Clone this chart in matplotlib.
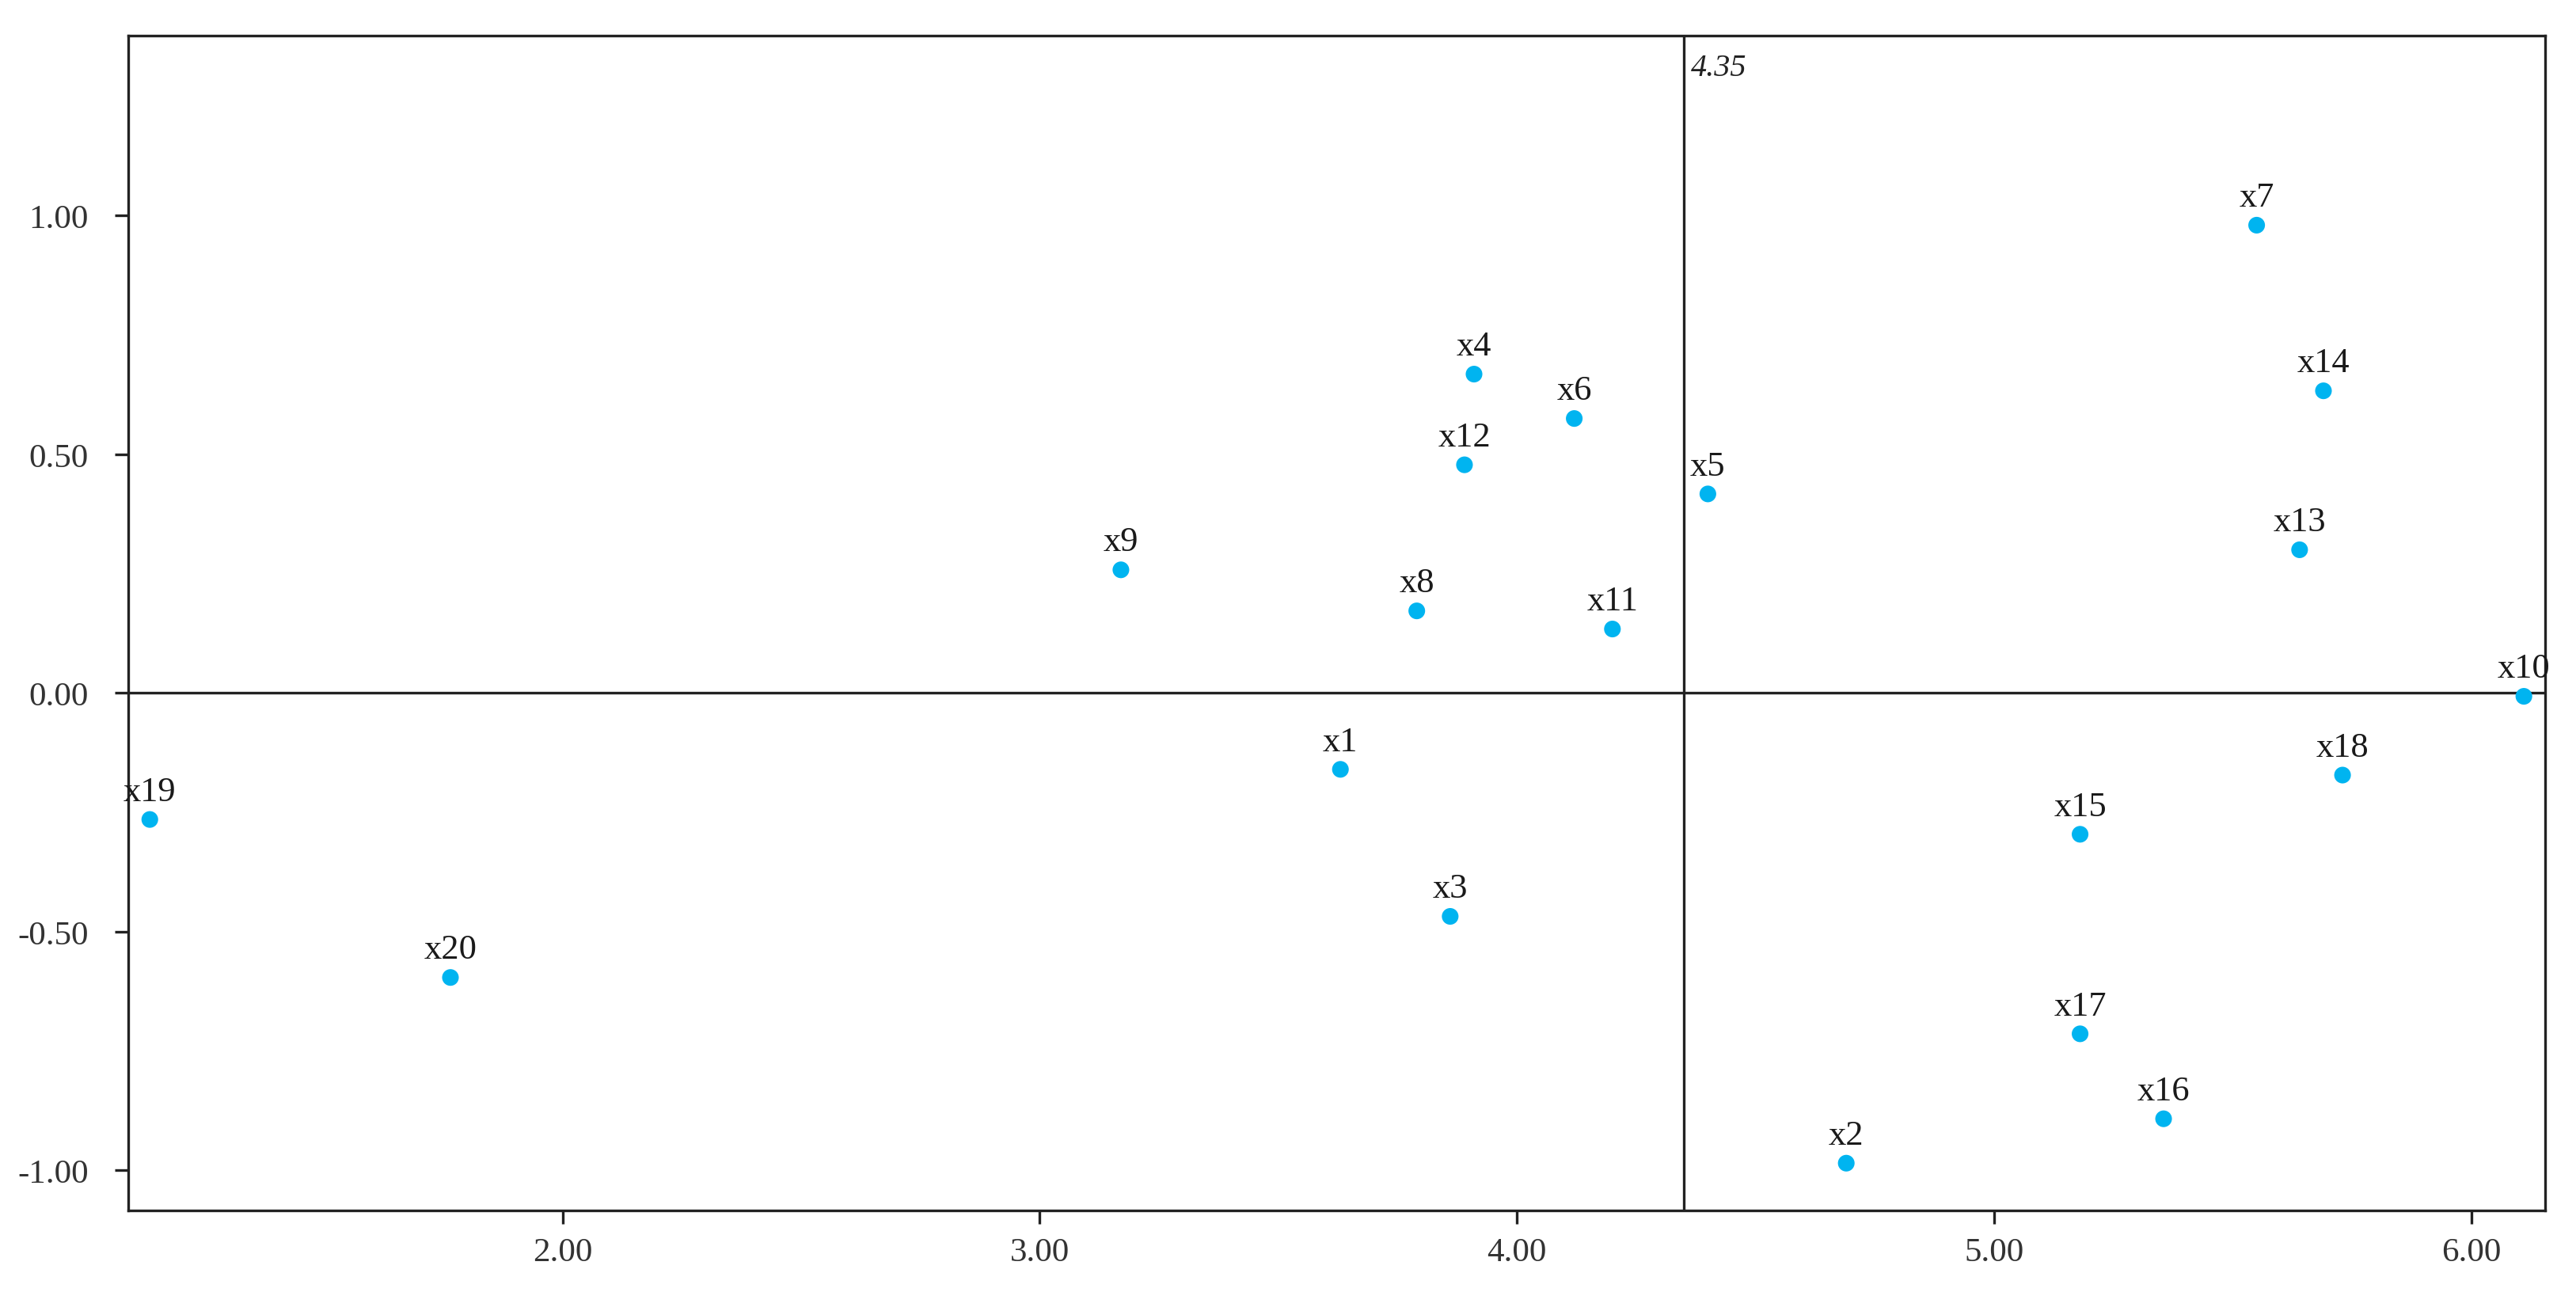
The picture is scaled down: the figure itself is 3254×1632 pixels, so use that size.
import numpy as np
import matplotlib.pyplot as plt
from matplotlib.ticker import FormatStrFormatter
from matplotlib.transforms import blended_transform_factory

plt.rcParams['font.family'] = ['Liberation Serif', 'DejaVu Serif']
plt.rcParams['axes.unicode_minus'] = False

# point names and coordinates
names = ['x1', 'x2', 'x3', 'x4', 'x5', 'x6', 'x7', 'x8', 'x9', 'x10',
         'x11', 'x12', 'x13', 'x14', 'x15', 'x16', 'x17', 'x18', 'x19', 'x20']
xs = [3.63, 4.69, 3.86, 3.91, 4.40, 4.12, 5.55, 3.79, 3.17, 6.11,
      4.20, 3.89, 5.64, 5.69, 5.18, 5.355, 5.18, 5.73, 1.135, 1.765]
ys = [-0.16, -0.985, -0.468, 0.668, 0.417, 0.575, 0.98, 0.172, 0.258, -0.007,
      0.134, 0.478, 0.30, 0.633, -0.296, -0.892, -0.714, -0.172, -0.265, -0.596]

x_cut = 4.35   # vertical reference line
y_cut = 0.0    # horizontal reference line
xticks = [2, 3, 4, 5, 6]
yticks = [-1.0, -0.5, 0.0, 0.5, 1.0]

fig = plt.figure(figsize=(32.55, 16.33), dpi=100)
ax = fig.add_axes([0.0498, 0.0631, 0.938, 0.9087])

ax.scatter(xs, ys, s=230, color='#00B4F0', zorder=3, edgecolors='none')
for n, x, y in zip(names, xs, ys):
    ax.annotate(n, (x, y), xytext=(0, 11), textcoords='offset points',
                ha='center', va='bottom', fontsize=32, color='#1a1a1a')

ax.axhline(y_cut, color='#222222', lw=2.4, zorder=2)
ax.axvline(x_cut, color='#222222', lw=2.4, zorder=2)
trans = blended_transform_factory(ax.transData, ax.transAxes)
ax.text(x_cut + 0.015, 0.985, '%.2f' % x_cut, transform=trans, ha='left', va='top',
        fontsize=29, style='italic', color='#222222')

ax.set_xlim(1.09, 6.155)
ax.set_ylim(-1.084, 1.377)
ax.set_xticks(xticks)
ax.set_yticks(yticks)
ax.xaxis.set_major_formatter(FormatStrFormatter('%.2f'))
ax.yaxis.set_major_formatter(FormatStrFormatter('%.2f'))
ax.tick_params(axis='both', direction='out', length=12, width=2.4, labelsize=31,
               labelcolor='#333333', color='#222222')
ax.tick_params(axis='y', pad=24)
ax.tick_params(axis='x', pad=12)
for sp in ax.spines.values():
    sp.set_linewidth(2.4)
    sp.set_color('#222222')

fig.savefig('out.png', dpi=100)
